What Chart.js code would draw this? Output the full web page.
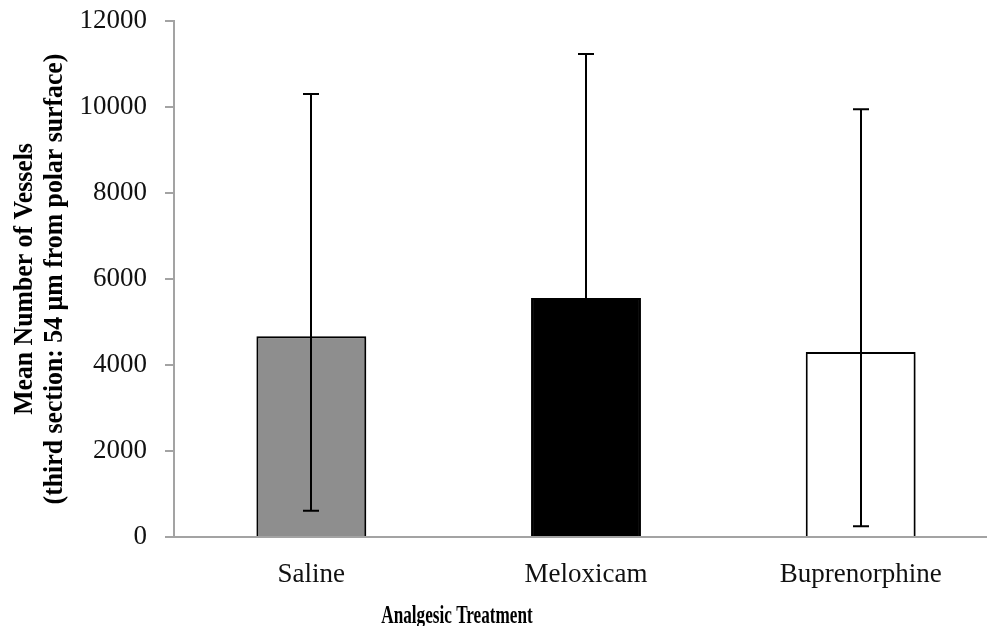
<!DOCTYPE html>
<html>
<head>
<meta charset="utf-8">
<title>Analgesic Treatment - Mean Number of Vessels</title>
<script src="https://cdn.jsdelivr.net/npm/chart.js@4/dist/chart.umd.min.js"></script>
<style>
    html, body { margin: 0; padding: 0; background: #ffffff; overflow: hidden; }
    canvas { display: block; }
</style>
</head>
<body>
<canvas id="vesselChart" width="998" height="626"></canvas>
<script>
// Treatment groups and their means
const treatments = ["Saline", "Meloxicam", "Buprenorphine"];
const meanVessels = [4670, 5560, 4300];

// Error bar ends (absolute values)
const errorTop = [10300, 11230, 9950];
const errorBottom = [610, 1500, 250];

// Bar fills
const barFills = ["#8e8e8e", "#000000", "#ffffff"];

// Axis ticks
const yTickValues = [0, 2000, 4000, 6000, 8000, 10000, 12000];

const yTitleLines = ["Mean Number of Vessels", "(third section: 54 µm from polar surface)"];
const xTitle = "Analgesic Treatment";

const axisGray = "#a3a3a3";

// Soft shadow behind the bars
const barShadow = {
    id: "barShadow",
    beforeDatasetsDraw(chart) {
        const ctx = chart.ctx;
        ctx.save();
        ctx.shadowColor = "rgba(0,0,0,0.28)";
        ctx.shadowBlur = 5;
        ctx.shadowOffsetX = 2;
        ctx.shadowOffsetY = 2;
    },
    afterDatasetsDraw(chart) {
        chart.ctx.restore();
    }
};

// Vertical error bars with caps
const errorBars = {
    id: "errorBars",
    afterDatasetsDraw(chart) {
        const ctx = chart.ctx;
        const meta = chart.getDatasetMeta(0);
        const y = chart.scales.y;
        ctx.save();
        ctx.strokeStyle = "#000000";
        ctx.lineWidth = 2;
        meta.data.forEach((bar, i) => {
            const x = Math.round(bar.x);
            const yTop = y.getPixelForValue(errorTop[i]);
            const yBot = y.getPixelForValue(errorBottom[i]);
            ctx.beginPath();
            ctx.moveTo(x, yTop);
            ctx.lineTo(x, yBot);
            ctx.moveTo(x - 8, yTop);
            ctx.lineTo(x + 8, yTop);
            ctx.moveTo(x - 8, yBot);
            ctx.lineTo(x + 8, yBot);
            ctx.stroke();
        });
        ctx.restore();
    }
};

// Axis titles (two-line rotated y title, narrow bold x title)
const axisTitles = {
    id: "axisTitles",
    afterDraw(chart) {
        const ctx = chart.ctx;
        const area = chart.chartArea;
        const midY = (area.top + area.bottom) / 2;
        ctx.save();
        ctx.fillStyle = "#000000";
        ctx.textAlign = "center";
        ctx.textBaseline = "alphabetic";
        ctx.font = "bold 28px 'Liberation Serif'";
        [32, 62].forEach((bx, i) => {
            ctx.save();
            ctx.translate(bx, midY);
            ctx.rotate(-Math.PI / 2);
            ctx.scale(0.92, 1);
            ctx.fillText(yTitleLines[i], 0, 0);
            ctx.restore();
        });
        ctx.font = "bold 26px 'Liberation Serif'";
        ctx.translate(457, 623);
        ctx.scale(0.66, 1);
        ctx.fillText(xTitle, 0, 0);
        ctx.restore();
    }
};

const chart = new Chart(document.getElementById("vesselChart"), {
    type: "bar",
    data: {
        labels: treatments,
        datasets: [{
            data: meanVessels,
            backgroundColor: barFills,
            borderColor: "#000000",
            borderWidth: 2,
            barPercentage: 0.4,
            categoryPercentage: 1.0
        }]
    },
    options: {
        responsive: false,
        animation: false,
        devicePixelRatio: 1,
        layout: { padding: { top: 21, left: 0, right: 0, bottom: 0 } },
        plugins: {
            legend: { display: false },
            tooltip: { enabled: false }
        },
        scales: {
            x: {
                grid: { display: false },
                border: { display: true, color: axisGray, width: 2 },
                ticks: {
                    color: "#111111",
                    padding: 14,
                    font: { family: "'Liberation Serif'", size: 27 }
                },
                afterFit: scale => { scale.height = 89; }
            },
            y: {
                min: 0,
                max: 12000,
                afterBuildTicks: scale => {
                    scale.ticks = yTickValues.map(v => ({ value: v }));
                },
                grid: {
                    drawOnChartArea: false,
                    drawTicks: true,
                    tickLength: 9,
                    color: axisGray,
                    lineWidth: 2
                },
                border: { display: true, color: axisGray, width: 2 },
                ticks: {
                    color: "#111111",
                    padding: 18,
                    font: { family: "'Liberation Serif'", size: 27 },
                    callback: value => String(value)
                },
                afterFit: scale => {
                    scale.width = 174;
                    scale.paddingTop = 0;
                    scale.paddingBottom = 0;
                }
            }
        }
    },
    plugins: [barShadow, errorBars, axisTitles]
});
</script>
</body>
</html>
